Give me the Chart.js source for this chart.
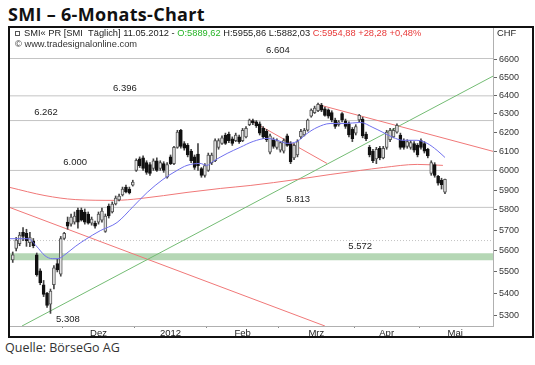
<!DOCTYPE html>
<html>
<head>
<meta charset="utf-8">
<script src="https://cdn.jsdelivr.net/npm/chart.js@4.4.1/dist/chart.umd.min.js"></script>
<style>
body { margin: 0; background: #fff; width: 535px; height: 365px; overflow: hidden; position: relative; }
#title { position: absolute; left: 8px; top: 2px; font: 700 18px "Open Sans", sans-serif; letter-spacing: 0.3px; color: #111; white-space: nowrap; }
#frame { position: absolute; left: 8px; top: 26px; width: 526px; height: 312px; border: 2px solid #111; box-sizing: border-box; }
#frame canvas { position: absolute; left: 0; top: 0; }
#src { position: absolute; left: 5px; top: 339px; font: 12.5px "Open Sans", sans-serif; color: #333; white-space: nowrap; }
</style>
</head>
<body>
<div id="title">SMI – 6-Monats-Chart</div>
<div id="frame"><canvas id="myChart" width="522" height="308"></canvas></div>
<div id="src">Quelle: BörseGo AG</div>
<script>
// Tageskerzen (Index = Handelstag), Werte aus dem Bild geschätzt
var opens = [5557,5612,5635,5690,5685,5640,5648,5581,5505,5440,5400,5350,5440,5540,5490,5660,5740,5730,5740,5800,
  5800,5790,5780,5735,5735,5740,5750,5695,5820,5790,5830,5850,5875,5915,5905,5925,6000,6060,6065,6040,
  6030,6010,6050,6010,6035,5965,6070,6035,6120,6210,6140,6130,6100,6070,6085,6010,5975,6000,6040,6050,
  6120,6140,6185,6190,6165,6155,6175,6155,6175,6240,6262,6255,6245,6220,6205,6095,6160,6120,6105,6100,
  6180,6140,6065,6080,6175,6185,6210,6285,6305,6315,6345,6325,6320,6305,6265,6240,6300,6260,6245,6215,
  6195,6265,6270,6190,6120,6100,6060,6115,6065,6120,6160,6175,6200,6185,6155,6125,6120,6140,6130,6155,
  6140,6110,5985,6030,5970,5950,5889.62];
var highs = [5595,5665,5690,5713,5705,5690,5660,5590,5515,5460,5405,5420,5530,5560,5670,5690,5765,5780,5790,5810,
  5810,5805,5790,5765,5745,5790,5810,5780,5830,5840,5870,5880,5915,5925,5915,5950,6060,6070,6075,6050,
  6040,6060,6065,6050,6045,6040,6080,6125,6210,6215,6150,6140,6110,6080,6140,6015,6035,6090,6090,6165,
  6165,6180,6195,6200,6175,6195,6185,6220,6230,6270,6270,6262,6255,6230,6215,6190,6170,6165,6150,6165,
  6190,6150,6140,6160,6215,6220,6270,6325,6340,6356,6355,6335,6325,6315,6275,6262,6305,6270,6255,6225,
  6240,6295,6280,6200,6130,6110,6120,6125,6125,6210,6220,6220,6245,6195,6165,6160,6155,6150,6140,6165,
  6150,6115,6050,6040,5975,5960,5955.86];
var lows = [5545,5600,5625,5650,5622,5620,5615,5480,5440,5385,5335,5308,5420,5500,5480,5655,5705,5720,5730,5710,
  5745,5730,5730,5725,5710,5730,5740,5690,5760,5785,5825,5845,5870,5885,5880,5920,5995,6015,6000,5980,
  5975,6000,5995,6000,5990,5960,6030,6030,6115,6115,6105,6070,6040,6005,6000,5965,5965,5995,6030,6045,
  6110,6135,6135,6145,6130,6150,6140,6150,6170,6235,6240,6225,6185,6165,6150,6085,6115,6110,6095,6090,
  6125,6035,6055,6070,6165,6180,6205,6280,6300,6310,6310,6285,6275,6255,6220,6232,6255,6220,6175,6150,
  6185,6255,6170,6155,6070,6040,6035,6055,6060,6110,6150,6170,6195,6110,6110,6115,6110,6095,6070,6110,
  6090,6065,5975,5965,5925,5905,5882.03];
var closes = [5581,5652,5676,5670,5650,5665,5625,5487,5450,5395,5345,5410,5520,5510,5660,5685,5720,5765,5770,5740,
  5750,5740,5735,5755,5720,5780,5795,5770,5770,5830,5860,5870,5905,5890,5885,5940,6052,6025,6010,5990,
  5985,6050,6000,6040,6000,6030,6035,6120,6200,6125,6115,6080,6050,6015,6025,5975,6025,6080,6080,6155,
  6155,6170,6140,6155,6140,6185,6150,6210,6220,6265,6250,6235,6195,6175,6160,6180,6125,6155,6145,6155,
  6130,6045,6130,6150,6205,6210,6265,6318,6330,6350,6318,6290,6285,6265,6230,6255,6265,6230,6185,6165,
  6230,6290,6180,6165,6080,6050,6110,6065,6115,6200,6210,6210,6237,6120,6120,6150,6145,6105,6080,6120,
  6100,6075,6040,5975,5935,5926.6,5954.88];

// gleitende Durchschnitte
var blueX = [-0.8,4.5,6.8,9.4,11.5,13.2,15.2,18.2,21.1,25.5,30.4,35.1,39.2,43.8,47.9,50.8,54.6,56.6,58.4,62.5,
  66.3,70.1,74.1,77.1,80.0,82.9,85.8,88.7,92.5,96.9,101.3,105.0,107.9,110.9,113.8,117.8,120.8,123.7,126.0];
var blueY = [5659,5659,5625,5577,5563,5563,5582,5621,5654,5698,5738,5817,5888,5954,6000,6026,6036,6026,6047,6088,
  6120,6151,6167,6157,6141,6151,6193,6225,6246,6246,6252,6225,6199,6172,6157,6157,6141,6104,6067];
var redX = [-0.8,9.4,18.2,29.8,37.1,50.8,60.5,69.2,82.9,92.5,101.3,108.0,117.9,125.4];
var redY = [5913,5872,5852,5848,5857,5888,5908,5923,5954,5979,6000,6015,6031,6026];

// Trendlinien: [x1, x2], [y1, y2]
var greenTrendX = [2.7, 140], greenTrendY = [5251, 6505];
var redTrendAX = [-0.8, 91], redTrendAY = [5812, 5251];
var redTrendBX = [69.2, 91.6], redTrendBY = [6264, 6036];
var redTrendCX = [88.7, 140], redTrendCY = [6350, 6099];

var levels = [6604, 6396, 6262, 6000, 5813];
var levelLabelAt = [77.3, 32.7, 9.7, 18.2, 83.2];
var dottedLevel = 5650;
var zoneLevel = 5572, zoneLabelAt = 101.3;
var lowLevel = 5308, lowLabelAt = 16.1;

var yTicks = [5300,5400,5500,5600,5700,5800,5900,6000,6100,6200,6300,6400,6500,6600];
var monthStarts = [14.5, 35.5, 56.5, 77.5, 99.5, 118.5];
var monthLabels = ['Dez', '2012', 'Feb', 'Mrz', 'Apr', 'Mai'];

var xMin = -0.8, xMax = 140, yMin = 5251, yMax = 6779;

var monthMids = monthStarts.map(function (s, i) {
  var next = i < monthStarts.length - 1 ? monthStarts[i + 1] : s + 21;
  return (s + next) / 2;
});

function pts(xs, ys) {
  return xs.map(function (x, i) { return { x: x, y: ys[i] }; });
}
function flat(v) {
  return [{ x: xMin, y: v }, { x: xMax, y: v }];
}
function de(v) {
  return v.toFixed(2).replace('.', ',');
}

var wicks = [], bodies = [], bodyFill = [], bodyLine = [];
for (var i = 0; i < opens.length; i++) {
  wicks.push({ x: i, y: [lows[i], highs[i]] });
  bodies.push({ x: i, y: [opens[i], closes[i]] });
  var up = closes[i] >= opens[i];
  bodyFill.push(up ? '#e4e4e4' : '#111');
  bodyLine.push(up ? '#555' : '#111');
}

var datasets = [];
datasets.push({ type: 'line', data: flat(zoneLevel), borderColor: 'rgba(168,208,168,0.85)', borderWidth: 7, pointRadius: 0, order: 30 });
levels.forEach(function (v) {
  datasets.push({ type: 'line', data: flat(v), borderColor: '#c4c4c4', borderWidth: 1, pointRadius: 0, order: 29 });
});
datasets.push({ type: 'line', data: flat(dottedLevel), borderColor: '#c4c4c4', borderWidth: 1, borderDash: [1, 2], pointRadius: 0, order: 29 });
datasets.push({ type: 'line', data: pts(redX, redY), borderColor: '#f07878', borderWidth: 1, pointRadius: 0, cubicInterpolationMode: 'monotone', order: 10 });
datasets.push({ type: 'line', data: pts(greenTrendX, greenTrendY), borderColor: '#74bc74', borderWidth: 1, pointRadius: 0, order: 11 });
datasets.push({ type: 'line', data: pts(redTrendAX, redTrendAY), borderColor: '#f07878', borderWidth: 1, pointRadius: 0, order: 11 });
datasets.push({ type: 'line', data: pts(redTrendBX, redTrendBY), borderColor: '#f07878', borderWidth: 1, pointRadius: 0, order: 11 });
datasets.push({ type: 'line', data: pts(redTrendCX, redTrendCY), borderColor: '#f07878', borderWidth: 1, pointRadius: 0, order: 11 });
datasets.push({ type: 'bar', data: wicks, backgroundColor: '#444', barThickness: 1, grouped: false, order: 3 });
datasets.push({ type: 'bar', data: bodies, backgroundColor: bodyFill, borderColor: bodyLine, borderWidth: 1, borderSkipped: false, barThickness: 3, grouped: false, order: 2 });
datasets.push({ type: 'line', data: pts(blueX, blueY), borderColor: '#7070ee', borderWidth: 1, pointRadius: 0, cubicInterpolationMode: 'monotone', order: 1 });

var last = opens.length - 1;
var chg = closes[last] - closes[last - 1];
var headerParts = [
  ['SMI\u00ab PR [SMI  T\u00e4glich] 11.05.2012 - ', '#222'],
  ['O:' + de(opens[last]), '#27b527'],
  [' H:' + de(highs[last]) + ' L:' + de(lows[last]) + ' ', '#222'],
  ['C:' + de(closes[last]) + ' +' + de(chg) + ' +' + de(chg / closes[last - 1] * 100) + '%', '#e83a3a']
];

var annotations = {
  id: 'annotations',
  afterDatasetsDraw: function (chart) {
    var ctx = chart.ctx, xs = chart.scales.x, ys = chart.scales.y;
    ctx.save();
    ctx.font = '9.5px "Liberation Sans", Arial, sans-serif';
    ctx.fillStyle = '#222';
    ctx.textAlign = 'center';
    ctx.textBaseline = 'bottom';
    levels.forEach(function (v, i) {
      ctx.fillText(v.toLocaleString('de-DE'), xs.getPixelForValue(levelLabelAt[i]), ys.getPixelForValue(v) - 3);
    });
    ctx.fillText(zoneLevel.toLocaleString('de-DE'), xs.getPixelForValue(zoneLabelAt), ys.getPixelForValue(zoneLevel) - 6);
    ctx.textBaseline = 'top';
    ctx.fillText(lowLevel.toLocaleString('de-DE'), xs.getPixelForValue(lowLabelAt), ys.getPixelForValue(lowLevel) + 1);

    // Kopfzeile
    var area = chart.chartArea;
    ctx.textAlign = 'left';
    ctx.textBaseline = 'top';
    ctx.font = '9.3px "Liberation Sans", Arial, sans-serif';
    ctx.strokeStyle = '#555';
    ctx.lineWidth = 1;
    ctx.strokeRect(area.left + 5.5, area.top + 3.5, 4, 4);
    var x = area.left + 14;
    headerParts.forEach(function (p) {
      ctx.fillStyle = p[1];
      ctx.fillText(p[0], x, area.top + 1);
      x += ctx.measureText(p[0]).width;
    });
    ctx.fillStyle = '#333';
    ctx.fillText('\u00a9 www.tradesignalonline.com', area.left + 5, area.top + 12);
    ctx.fillStyle = '#222';
    ctx.fillText('CHF', area.right + 4, area.top + 1);
    ctx.restore();
  }
};

Chart.defaults.font.family = '"Liberation Sans", Arial, sans-serif';

var myChart = new Chart(document.getElementById('myChart'), {
  type: 'bar',
  data: { datasets: datasets },
  options: {
    responsive: false,
    animation: false,
    devicePixelRatio: 1,
    layout: { padding: 0 },
    plugins: { legend: { display: false }, tooltip: { enabled: false } },
    scales: {
      x: {
        type: 'linear',
        min: xMin,
        max: xMax,
        bounds: 'data',
        offset: false,
        grid: {
          offset: false,
          drawOnChartArea: false,
          tickLength: 2,
          tickColor: function (c) {
            return c.tick && monthStarts.indexOf(c.tick.value) >= 0 ? '#888' : 'rgba(0,0,0,0)';
          }
        },
        border: { display: true, color: '#b0b0b0', dash: [1, 1] },
        ticks: {
          autoSkip: false,
          maxRotation: 0,
          padding: 0,
          color: '#222',
          font: { size: 9.5 },
          callback: function (v) {
            var j = monthMids.indexOf(v);
            return j >= 0 ? monthLabels[j] : '';
          }
        },
        afterBuildTicks: function (scale) {
          scale.ticks = monthStarts.concat(monthMids).sort(function (a, b) { return a - b; })
            .map(function (v) { return { value: v }; });
        },
        afterFit: function (scale) {
          scale.height = 10;
          scale.paddingLeft = 0; scale.paddingRight = 0;
        }
      },
      y: {
        type: 'logarithmic',
        position: 'right',
        min: yMin,
        max: yMax,
        bounds: 'data',
        grid: { drawOnChartArea: false, tickLength: 4, tickColor: '#666' },
        border: { display: true, color: '#b0b0b0', dash: [1, 1] },
        ticks: {
          padding: 2,
          color: '#333',
          font: { size: 9 },
          callback: function (v) { return String(v); }
        },
        afterBuildTicks: function (scale) {
          scale.ticks = yTicks.map(function (v) { return { value: v }; });
        },
        afterFit: function (scale) {
          scale.width = 39;
          scale.paddingTop = 0; scale.paddingBottom = 0;
        }
      }
    }
  },
  plugins: [annotations]
});
</script>
</body>
</html>
